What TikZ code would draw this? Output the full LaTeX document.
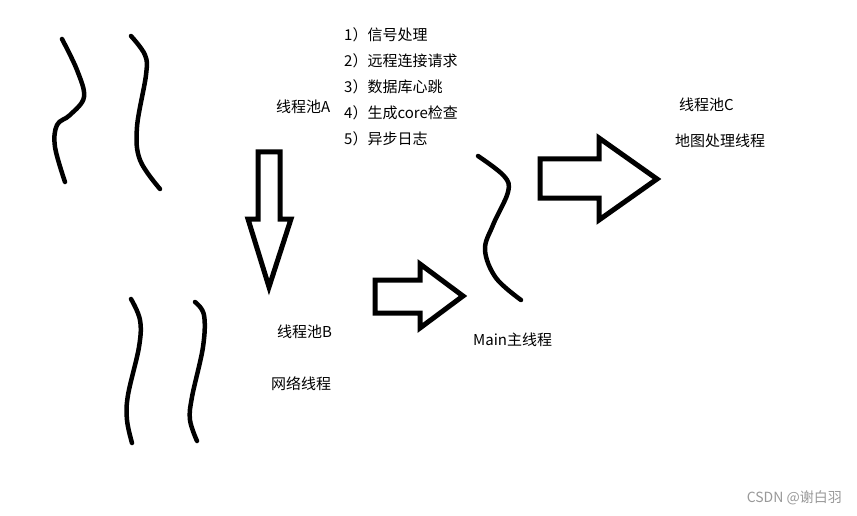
\documentclass[tikz,border=0pt]{standalone}
\usepackage{fontspec}
\setmainfont{Noto Sans CJK SC}
\usepackage{tikz}
\usetikzlibrary{positioning}

\begin{document}
\begin{tikzpicture}[
    x=1pt, y=-1pt,
    txt/.style={inner sep=0pt, font=\fontsize{15}{17}\selectfont, anchor=west},
    wave/.style={line width=4.5pt, line cap=round, line join=round},
    blockarrow/.style={line width=5pt, line join=miter, miter limit=20},
    watermark/.style={inner sep=0pt, font=\fontsize{14}{16}\selectfont, text=black!40, anchor=east}
]
\useasboundingbox[fill=white] (0,0) rectangle (857,516);

% threads of pool A
\draw[wave] plot[smooth, tension=0.6] coordinates {(62,39) (77,70) (84,97) (70,115) (57,125) (55,147) (65,182)};
\draw[wave] plot[smooth, tension=0.6] coordinates {(131,36) (145,55) (146,75) (137,127) (140,160) (160,189)};

% threads of pool B
\draw[wave] plot[smooth, tension=0.6] coordinates {(131,299) (140,320) (139,347) (128,395) (127,420) (132,443)};
\draw[wave] plot[smooth, tension=0.6] coordinates {(195,302) (204,315) (203,347) (192,397) (190,420) (197,441)};

% main thread
\draw[wave] plot[smooth, tension=0.6] coordinates {(478,156) (504,176) (508,192) (493,225) (485,250) (496,278) (521,300)};

% block arrows
\draw[blockarrow] (258,152) -- (280,152) -- (280,219) -- (291,219) -- (269,287)
    -- (248,219) -- (258,219) -- cycle;
\draw[blockarrow] (375,280) -- (420,280) -- (420,264) -- (463,296) -- (420,328)
    -- (420,313) -- (375,313) -- cycle;
\draw[blockarrow] (540,159) -- (599,159) -- (599,138) -- (657,179) -- (599,220)
    -- (599,198) -- (540,198) -- cycle;

% texts
\node[txt] (poolA) at (276,107) {线程池A};
\node[txt] (task1) at (344,35) {1）信号处理};
\node[txt] (task2) at (344,61) {2）远程连接请求};
\node[txt] (task3) at (344,87) {3）数据库心跳};
\node[txt] (task4) at (344,113) {4）生成core检查};
\node[txt] (task5) at (344,139) {5）异步日志};
\node[txt] (poolB) at (277,332) {线程池B};
\node[txt] (netB) at (271,384) {网络线程};
\node[txt] (mainT) at (473,340) {Main主线程};
\node[txt] (poolC) at (679,105) {线程池C};
\node[txt] (mapC) at (675,141) {地图处理线程};
\node[watermark] (csdn) at (842,498) {CSDN @谢白羽};
\end{tikzpicture}
\end{document}
